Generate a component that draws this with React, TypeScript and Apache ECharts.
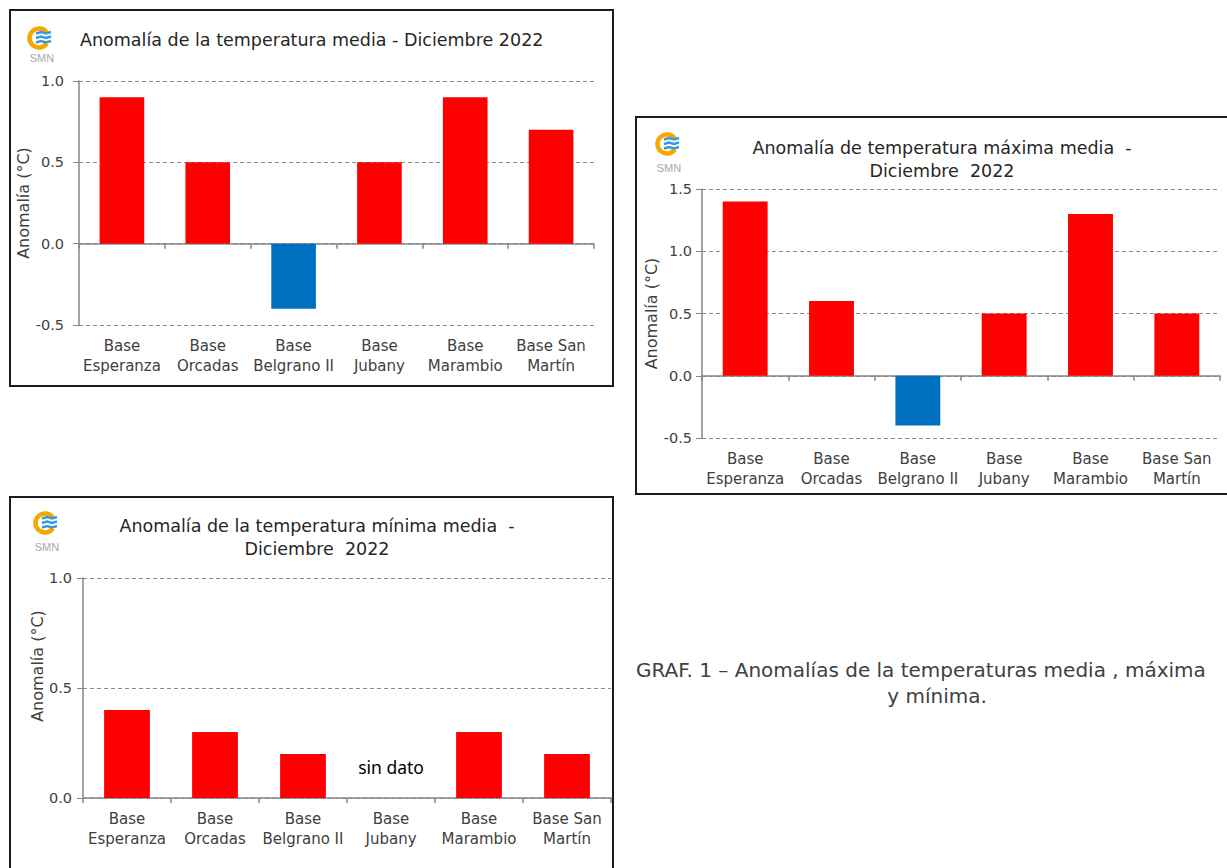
import React, { useEffect, useRef } from "react";
import * as echarts from "echarts";

const categories = [
  "Base\nEsperanza",
  "Base\nOrcadas",
  "Base\nBelgrano II",
  "Base\nJubany",
  "Base\nMarambio",
  "Base San\nMartín",
];
const mediaValues = [0.9, 0.5, -0.4, 0.5, 0.9, 0.7];
const maximaValues = [1.4, 0.6, -0.4, 0.5, 1.3, 0.5];
const minimaValues: (number | null)[] = [0.4, 0.3, 0.2, null, 0.3, 0.2];

const mediaTitle = "Anomalía de la temperatura media - Diciembre 2022";
const maximaTitle = "Anomalía de temperatura máxima media  -\nDiciembre  2022";
const minimaTitle = "Anomalía de la temperatura mínima media  -\nDiciembre  2022";
const yName = "Anomalía (°C)";
const noDataLabel = "sin dato";
const captionLine1 = "GRAF. 1 – Anomalías de la temperaturas media , máxima";
const captionLine2 = "y mínima.";

const FONT = "DejaVu Sans";
const TXT = "#404040";
const AXIS = "#868686";
const RED = "#FF0000";
const BLUE = "#0070C0";

function logo(cx: number, cy: number) {
  return {
    type: "group",
    children: [
      {
        type: "arc",
        shape: { cx, cy, r: 9.5, startAngle: 0.6, endAngle: Math.PI * 2 - 0.6, clockwise: true },
        style: { stroke: "#F5A800", lineWidth: 4.5, fill: null },
      },
      ...[-4.5, 0, 4.5].map((dy) => ({
        type: "polyline",
        shape: {
          points: [
            [cx - 3, cy + dy],
            [cx + 2, cy + dy - 1.5],
            [cx + 7, cy + dy],
            [cx + 12, cy + dy - 1.5],
          ],
        },
        style: { stroke: "#3A9AD9", lineWidth: 2.6, fill: null },
      })),
    ],
  };
}

function smn(cx: number, cy: number) {
  return {
    type: "text",
    x: cx,
    y: cy,
    style: {
      text: "SMN",
      fontFamily: "Liberation Sans Narrow, Liberation Sans",
      fontSize: 11,
      fill: "#A8A8A8",
      align: "center",
      verticalAlign: "middle",
    },
  };
}

function frame(x: number, y: number, w: number, h: number) {
  return {
    type: "rect",
    shape: { x, y, width: w, height: h },
    style: { fill: null, stroke: "#1c1c1c", lineWidth: 2 },
    z: 100,
  };
}

export default function App() {
  const ref = useRef<HTMLDivElement>(null);
  useEffect(() => {
    if (!ref.current) return;
    const chart = echarts.init(ref.current, undefined, { renderer: "svg" });

    const grids = [
      { left: 79, top: 81, width: 515, height: 244 },
      { left: 702, top: 189, width: 518, height: 249 },
      { left: 83, top: 578, width: 528, height: 220 },
    ];
    const yRanges = [
      { min: -0.5, max: 1.0, nameGap: 46, labelMargin: 15, namePad: [0, 0, 0, 0] },
      { min: -0.5, max: 1.5, nameGap: 43, labelMargin: 10, namePad: [0, 0, 0, 0] },
      { min: 0, max: 1.0, nameGap: 34, labelMargin: 11, namePad: [0, 0, 0, 44] },
    ];

    const xAxes: any[] = [];
    const yAxes: any[] = [];
    grids.forEach((_, i) => {
      xAxes.push({
        type: "category",
        gridIndex: i,
        data: categories,
        position: "bottom",
        axisLine: { show: false, onZero: false },
        axisTick: { show: false },
        splitLine: { show: false },
        axisLabel: {
          interval: 0,
          margin: 11,
          fontFamily: FONT,
          fontSize: 15,
          lineHeight: 20,
          color: TXT,
        },
      });
      xAxes.push({
        type: "category",
        gridIndex: i,
        data: categories,
        position: "bottom",
        axisLine: { show: true, onZero: true, lineStyle: { color: AXIS, width: 1.5 } },
        axisTick: { show: true, length: 5, lineStyle: { color: AXIS, width: 1.5 } },
        axisLabel: { show: false },
        splitLine: { show: false },
      });
      const r = yRanges[i];
      yAxes.push({
        type: "value",
        gridIndex: i,
        min: r.min,
        max: r.max,
        interval: 0.5,
        name: yName,
        nameLocation: "middle",
        nameGap: r.nameGap,
        nameTextStyle: { fontFamily: FONT, fontSize: 16, color: TXT, padding: r.namePad },
        axisLine: { show: true, lineStyle: { color: AXIS, width: 1.5 } },
        axisTick: { show: true, length: 6, lineStyle: { color: AXIS } },
        splitLine: { show: true, lineStyle: { color: "#8c8c8c", type: [4, 3], width: 1 } },
        axisLabel: {
          margin: r.labelMargin,
          fontFamily: FONT,
          fontSize: 14.5,
          color: TXT,
          formatter: (v: number) => v.toFixed(1),
        },
      });
    });

    const colorFn = (p: any) => (p.value < 0 ? BLUE : RED);
    const datasets = [mediaValues, maximaValues, minimaValues];
    const series: any[] = datasets.map((vals, i) => ({
      type: "bar",
      xAxisIndex: i * 2,
      yAxisIndex: i,
      data: vals,
      barWidth: "52%",
      itemStyle: { color: colorFn },
      z: 3,
    }));
    series[2].markPoint = {
      symbol: "circle",
      symbolSize: 0,
      silent: true,
      data: [
        {
          coord: [3, 0.14],
          label: {
            show: true,
            formatter: noDataLabel,
            position: "inside",
            fontFamily: "Noto Sans",
            fontSize: 17.5,
            color: "#000",
          },
        },
      ],
    };

    const titleStyle = { fontFamily: FONT, fontSize: 17.5, fontWeight: "normal", color: "#262626", lineHeight: 23 };

    chart.setOption({
      animation: false,
      backgroundColor: "#fff",
      title: [
        { text: mediaTitle, left: 75, top: 23, textStyle: titleStyle },
        { text: maximaTitle, left: 937, top: 131, textAlign: "center", textStyle: titleStyle },
        { text: minimaTitle, left: 312, top: 509, textAlign: "center", textStyle: titleStyle },
      ],
      grid: grids.map((g) => ({ ...g, containLabel: false })),
      xAxis: xAxes,
      yAxis: yAxes,
      series,
      graphic: [
        frame(10, 10, 603, 376),
        frame(636, 117, 620, 377),
        frame(10, 497, 603, 390),
        logo(39, 38),
        smn(42, 58),
        logo(667, 144),
        smn(669, 168),
        logo(45, 523),
        smn(47, 547),
        {
          type: "text",
          x: 636,
          y: 670,
          style: { text: captionLine1, fontFamily: FONT, fontSize: 20, fill: TXT, align: "left", verticalAlign: "middle" },
        },
        {
          type: "text",
          x: 937,
          y: 696,
          style: { text: captionLine2, fontFamily: FONT, fontSize: 20, fill: TXT, align: "center", verticalAlign: "middle" },
        },
      ],
    });
    return () => chart.dispose();
  }, []);
  return (
    <div
      ref={ref}
      style={{ position: "absolute", left: 0, top: 0, width: 1227, height: 868 }}
    />
  );
}
